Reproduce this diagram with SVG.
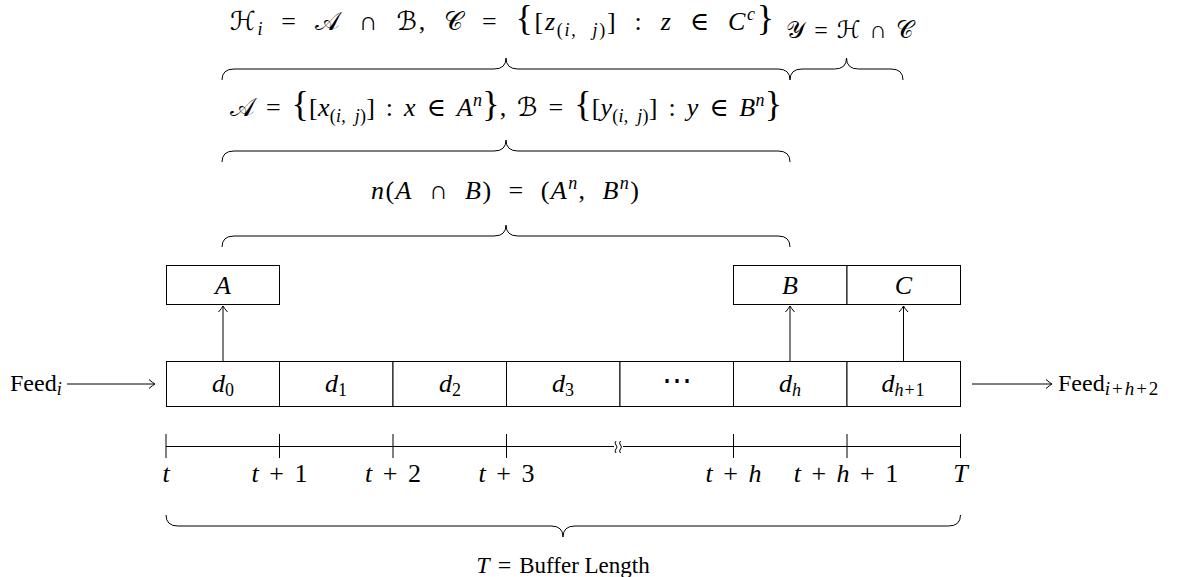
<svg xmlns="http://www.w3.org/2000/svg" width="1184" height="577" viewBox="0 0 1184 577">
<style>
text{font-family:"Liberation Serif","DejaVu Serif",serif;font-size:26px;fill:#000;word-spacing:4px}
.r{font-size:24px;word-spacing:0}
.i{font-style:italic}
.c{font-family:"DejaVu Serif","DejaVu Sans","Liberation Serif",serif;font-style:normal;font-size:26px}
.s{font-size:18px}
.big{font-size:36px}
.box{fill:#fff;stroke:#000;stroke-width:1}
.ln{fill:none;stroke:#000;stroke-width:1}
.br{fill:none;stroke:#000;stroke-width:1}
</style>
<defs>
<marker id="ah" markerUnits="userSpaceOnUse" markerWidth="14" markerHeight="14" refX="0" refY="0" viewBox="-8 -7 10 14" orient="auto">
<path d="M -6 -4.5 Q -2 -1 0 0 Q -2 1 -6 4.5" fill="none" stroke="#000" stroke-width="1"/>
</marker>
</defs>

<g id="label-top">
<text x="502" y="30" text-anchor="middle" textLength="544" lengthAdjust="spacing" style="word-spacing:9px"><tspan class="c">ℋ</tspan><tspan class="s i" dy="5">i</tspan><tspan dy="-5"> = </tspan><tspan class="c">𝒜</tspan> ∩ <tspan class="c">ℬ</tspan>, <tspan class="c">𝒞</tspan> = <tspan class="big">{</tspan>[<tspan class="i">z</tspan><tspan class="s" dy="6">(<tspan class="i">i</tspan>, <tspan class="i">j</tspan>)</tspan><tspan dy="-6">] : </tspan><tspan class="i">z</tspan> ∈ <tspan class="i">C</tspan><tspan class="s i" dy="-10">c</tspan><tspan class="big" dy="10">}</tspan></text>
</g>
<g id="label-Y">
<text x="850" y="38" text-anchor="middle" style="font-size:24px;word-spacing:3px"><tspan class="c" style="font-size:24px">𝒴</tspan> = <tspan class="c" style="font-size:24px">ℋ</tspan> ∩ <tspan class="c" style="font-size:24px">𝒞</tspan></text>
</g>
<g id="label-AB">
<text x="506" y="116" text-anchor="middle" textLength="552" lengthAdjust="spacing"><tspan class="c">𝒜</tspan> = <tspan class="big">{</tspan>[<tspan class="i">x</tspan><tspan class="s" dy="6">(<tspan class="i">i</tspan>, <tspan class="i">j</tspan>)</tspan><tspan dy="-6">] : </tspan><tspan class="i">x</tspan> ∈ <tspan class="i">A</tspan><tspan class="s i" dy="-10">n</tspan><tspan class="big" dy="10">}</tspan>, <tspan class="c">ℬ</tspan> = <tspan class="big">{</tspan>[<tspan class="i">y</tspan><tspan class="s" dy="6">(<tspan class="i">i</tspan>, <tspan class="i">j</tspan>)</tspan><tspan dy="-6">] : </tspan><tspan class="i">y</tspan> ∈ <tspan class="i">B</tspan><tspan class="s i" dy="-10">n</tspan><tspan class="big" dy="10">}</tspan></text>
</g>
<g id="label-n">
<text x="505" y="199" text-anchor="middle" textLength="268" lengthAdjust="spacing" style="word-spacing:8px"><tspan class="i">n</tspan>(<tspan class="i">A</tspan> ∩ <tspan class="i">B</tspan>) = (<tspan class="i">A</tspan><tspan class="s i" dy="-10">n</tspan><tspan dy="10">, </tspan><tspan class="i">B</tspan><tspan class="s i" dy="-10">n</tspan><tspan dy="10">)</tspan></text>
</g>

<g id="braces">
<path class="br" d="M222 80 Q222 69 234 69 H494 Q506 69 506 58 Q506 69 518 69 H778 Q790 69 790 80"/>
<path class="br" d="M790 80 Q790 69 802 69 H834.5 Q846.5 69 846.5 58 Q846.5 69 858.5 69 H891 Q903 69 903 80"/>
<path class="br" d="M222 162 Q222 151 234 151 H494 Q506 151 506 140 Q506 151 518 151 H778 Q790 151 790 162"/>
<path class="br" d="M222 247 Q222 236 234 236 H494 Q506 236 506 225 Q506 236 518 236 H778 Q790 236 790 247"/>
<path class="br" d="M166 515 Q166 526 178 526 H551 Q563 526 563 537 Q563 526 575 526 H948.5 Q960.5 526 960.5 515"/>
</g>

<g id="node-A">
<rect class="box" x="166.5" y="265.5" width="113" height="39"/>
<text x="223" y="294" text-anchor="middle" class="i">A</text>
</g>
<g id="node-B">
<rect class="box" x="733.5" y="265.5" width="113.5" height="39"/>
<text x="790" y="294" text-anchor="middle" class="i">B</text>
</g>
<g id="node-C">
<rect class="box" x="847" y="265.5" width="113.5" height="39"/>
<text x="903.5" y="294" text-anchor="middle" class="i">C</text>
</g>

<g id="node-d0"><rect class="box" x="166.5" y="361.5" width="113" height="45"/><text x="223" y="392" text-anchor="middle"><tspan class="i">d</tspan><tspan class="s" dy="4">0</tspan></text></g>
<g id="node-d1"><rect class="box" x="279.5" y="361.5" width="113.5" height="45"/><text x="336" y="392" text-anchor="middle"><tspan class="i">d</tspan><tspan class="s" dy="4">1</tspan></text></g>
<g id="node-d2"><rect class="box" x="393" y="361.5" width="113.5" height="45"/><text x="450" y="392" text-anchor="middle"><tspan class="i">d</tspan><tspan class="s" dy="4">2</tspan></text></g>
<g id="node-d3"><rect class="box" x="506.5" y="361.5" width="113.5" height="45"/><text x="563" y="392" text-anchor="middle"><tspan class="i">d</tspan><tspan class="s" dy="4">3</tspan></text></g>
<g id="node-dots"><rect class="box" x="620" y="361.5" width="113.5" height="45"/><text x="677" y="390" text-anchor="middle" style="font-family:'DejaVu Serif',serif;font-size:30px">⋯</text></g>
<g id="node-dh"><rect class="box" x="733.5" y="361.5" width="113.5" height="45"/><text x="790" y="392" text-anchor="middle"><tspan class="i">d</tspan><tspan class="s i" dy="4">h</tspan></text></g>
<g id="node-dh1"><rect class="box" x="847" y="361.5" width="113.5" height="45"/><text x="903.5" y="392" text-anchor="middle" style="word-spacing:0"><tspan class="i">d</tspan><tspan class="s" dy="4" style="letter-spacing:1px"><tspan class="i">h</tspan>+1</tspan></text></g>

<g id="node-feed-in"><text x="10" y="391" class="r">Feed<tspan class="s i" dy="4">i</tspan></text></g>
<g id="node-feed-out"><text x="1058" y="391" class="r">Feed<tspan class="s" dy="4" style="font-size:19px;letter-spacing:2px"><tspan class="i">i</tspan>+<tspan class="i">h</tspan>+2</tspan></text></g>

<g id="connectors">
<line class="ln" x1="67" y1="384" x2="155" y2="384" marker-end="url(#ah)"/>
<line class="ln" x1="972" y1="384" x2="1052" y2="384" marker-end="url(#ah)"/>
<line class="ln" x1="223" y1="361" x2="223" y2="306" marker-end="url(#ah)"/>
<line class="ln" x1="790" y1="361" x2="790" y2="306" marker-end="url(#ah)"/>
<line class="ln" x1="903.5" y1="361" x2="903.5" y2="306" marker-end="url(#ah)"/>
</g>

<g id="timeline">
<line class="ln" x1="166" y1="446.5" x2="960.5" y2="446.5"/>
<line class="ln" x1="166" y1="434" x2="166" y2="458"/>
<line class="ln" x1="279.5" y1="434" x2="279.5" y2="458"/>
<line class="ln" x1="393" y1="434" x2="393" y2="458"/>
<line class="ln" x1="506.5" y1="434" x2="506.5" y2="458"/>
<line class="ln" x1="733.5" y1="434" x2="733.5" y2="458"/>
<line class="ln" x1="847" y1="434" x2="847" y2="458"/>
<line class="ln" x1="960.5" y1="434" x2="960.5" y2="458"/>
<rect x="614" y="440" width="9" height="13" fill="#fff"/>
<path class="ln" d="M616 441 q-2 2 0 4 q2 2 0 4 q-2 2 0 4 M620.5 441 q-2 2 0 4 q2 2 0 4 q-2 2 0 4"/>
<text x="166" y="482" text-anchor="middle" class="i">t</text>
<text x="279.5" y="482" text-anchor="middle"><tspan class="i">t</tspan> + 1</text>
<text x="393" y="482" text-anchor="middle"><tspan class="i">t</tspan> + 2</text>
<text x="506.5" y="482" text-anchor="middle"><tspan class="i">t</tspan> + 3</text>
<text x="733.5" y="482" text-anchor="middle"><tspan class="i">t</tspan> + <tspan class="i">h</tspan></text>
<text x="846" y="482" text-anchor="middle"><tspan class="i">t</tspan> + <tspan class="i">h</tspan> + 1</text>
<text x="960.5" y="482" text-anchor="middle" class="i">T</text>
</g>

<g id="label-buffer">
<text x="563" y="573" text-anchor="middle" style="font-size:24px;word-spacing:2px"><tspan class="i">T</tspan> = <tspan class="r" style="font-size:23px">Buffer Length</tspan></text>
</g>
</svg>
